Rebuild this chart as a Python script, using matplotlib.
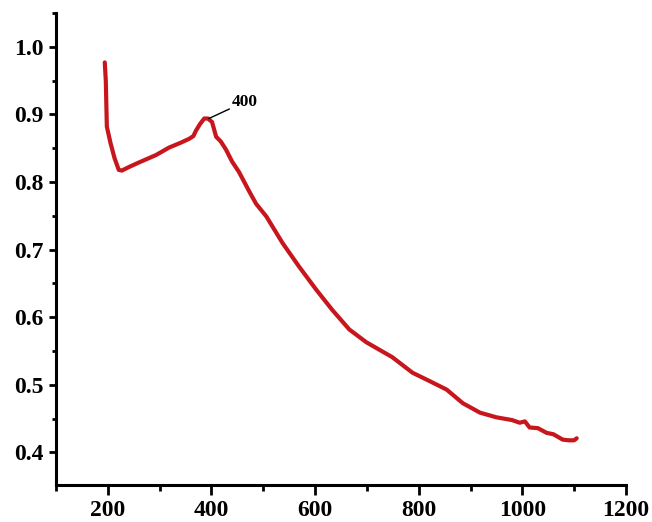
import matplotlib
matplotlib.use("Agg")
import matplotlib.pyplot as plt
from matplotlib.ticker import MultipleLocator

wavelength = [194, 196, 198, 205, 213, 221, 227, 240, 260, 293, 318, 340, 357, 365,
              370, 378, 386, 393, 401, 405, 409, 418, 428, 440, 453, 473, 486, 506,
              537, 569, 602, 633, 666, 699, 724, 749, 788, 820, 854, 885, 918, 950,
              965, 980, 995, 1005, 1014, 1030, 1047, 1060, 1078, 1090, 1100, 1105]
absorbance = [0.977, 0.950, 0.882, 0.858, 0.835, 0.818, 0.817, 0.822, 0.829, 0.840,
              0.851, 0.858, 0.864, 0.868, 0.876, 0.886, 0.894, 0.894, 0.889, 0.878,
              0.867, 0.860, 0.848, 0.830, 0.815, 0.786, 0.768, 0.749, 0.710, 0.675,
              0.641, 0.611, 0.582, 0.563, 0.552, 0.541, 0.518, 0.506, 0.493, 0.473,
              0.459, 0.452, 0.450, 0.448, 0.444, 0.446, 0.437, 0.436, 0.429, 0.427,
              0.419, 0.418, 0.418, 0.421]

x_ticks = [200, 400, 600, 800, 1000, 1200]
y_ticks = [0.4, 0.5, 0.6, 0.7, 0.8, 0.9, 1.0]
peak_label = "400"
peak_xy = (395, 0.894)

plt.rcParams['font.family'] = ['Liberation Serif', 'DejaVu Serif']

fig = plt.figure(figsize=(6.52, 5.22), dpi=100)
ax = fig.add_axes([0.086, 0.071, 0.874, 0.904])

ax.plot(wavelength, absorbance, color='#c8161d', lw=3.0, solid_joinstyle='round',
        solid_capstyle='round')

ax.annotate(peak_label, xy=peak_xy, xytext=(440, 0.919), fontsize=12.5,
            fontweight='bold', va='center', ha='left',
            arrowprops=dict(arrowstyle='-', lw=1.0, color='black',
                            shrinkA=0, shrinkB=0))

ax.set_xlim(100, 1200)
ax.set_ylim(0.352, 1.05)
ax.set_xticks(x_ticks)
ax.set_yticks(y_ticks)
ax.set_yticklabels([f"{v:.1f}" for v in y_ticks])
ax.xaxis.set_minor_locator(MultipleLocator(100))
ax.yaxis.set_minor_locator(MultipleLocator(0.05))

for s in ['top', 'right']:
    ax.spines[s].set_visible(False)
for s in ['left', 'bottom']:
    ax.spines[s].set_linewidth(2.2)

ax.tick_params(axis='x', which='major', direction='out', length=7, width=2, pad=4,
               labelsize=17)
ax.tick_params(axis='x', which='minor', direction='out', length=4, width=2)
ax.tick_params(axis='y', which='major', direction='out', length=5, width=2, pad=4,
               labelsize=17)
ax.tick_params(axis='y', which='minor', direction='out', length=3, width=2)
for lab in ax.get_xticklabels() + ax.get_yticklabels():
    lab.set_fontweight('bold')

fig.savefig("out.png", dpi=100)
